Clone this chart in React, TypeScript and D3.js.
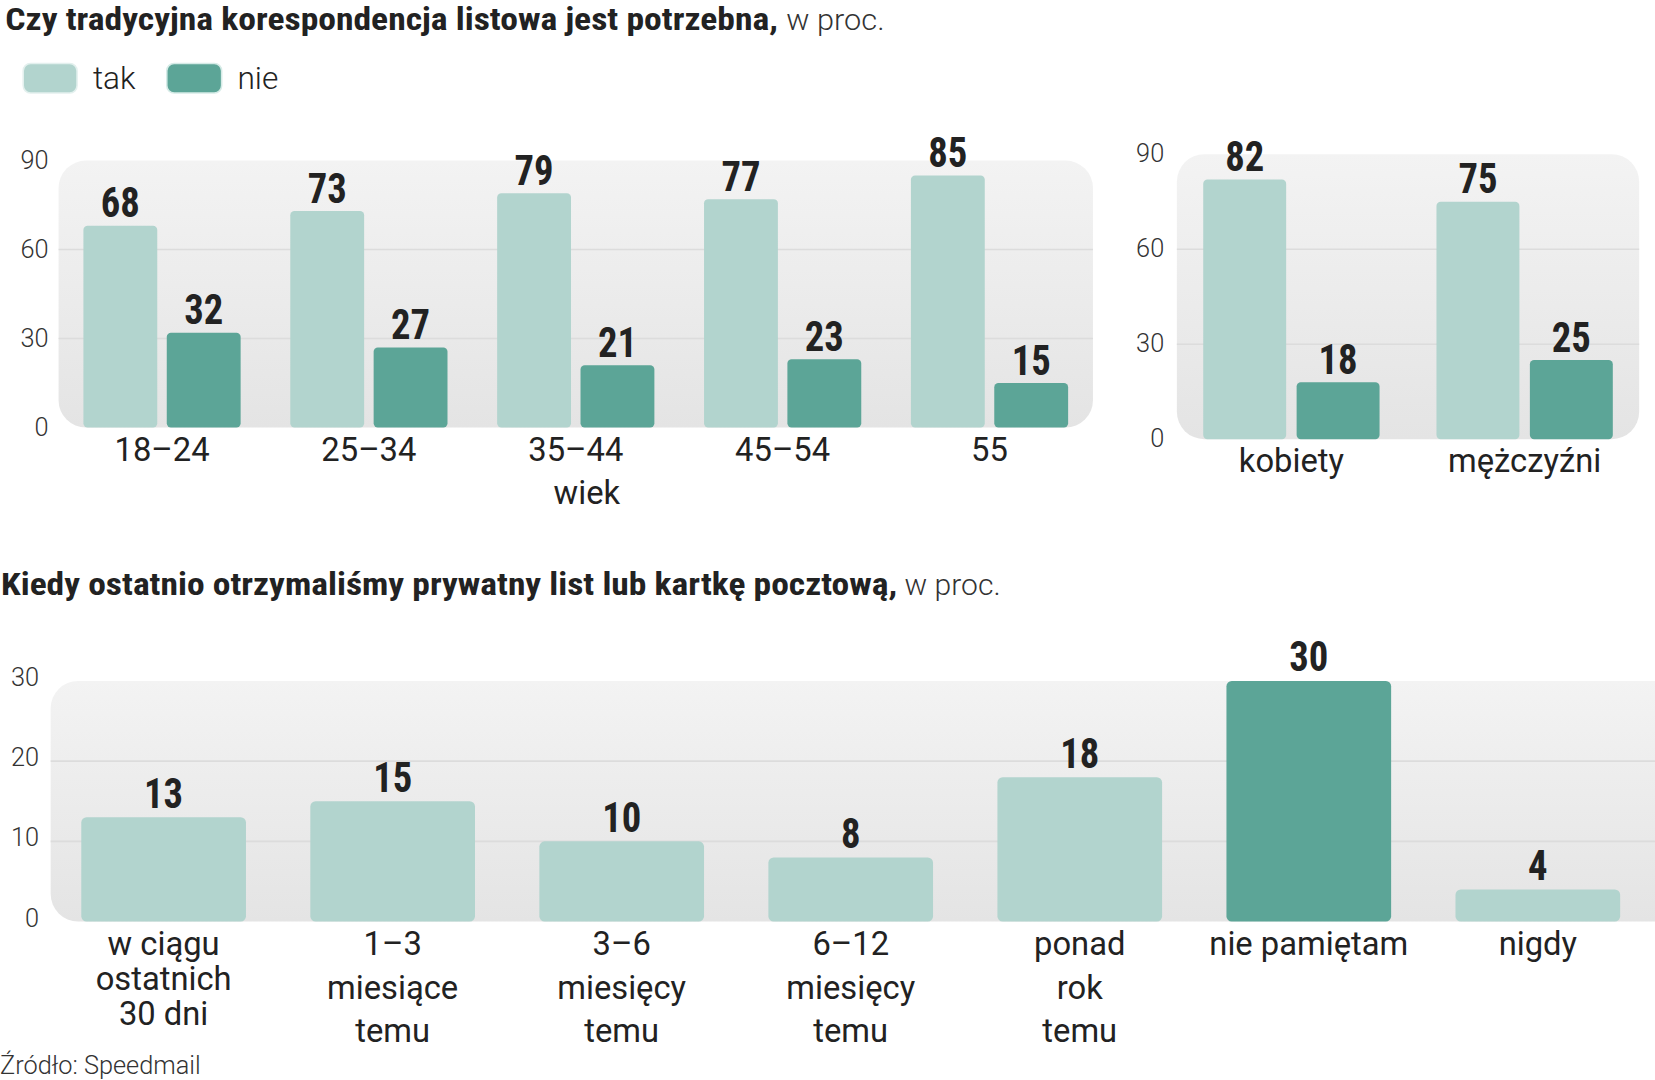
import React from "react";
import * as d3 from "d3";

// ---------- DATA ----------
const ageGroups = ["18–24", "25–34", "35–44", "45–54", "55"];
const ageTak = [68, 73, 79, 77, 85];
const ageNie = [32, 27, 21, 23, 15];

const genders = ["kobiety", "mężczyźni"];
const genderTak = [82, 75];
const genderNie = [18, 25];

const recencyLabels = [
  ["w ciągu", "ostatnich", "30 dni"],
  ["1–3", "miesiące", "temu"],
  ["3–6", "miesięcy", "temu"],
  ["6–12", "miesięcy", "temu"],
  ["ponad", "rok", "temu"],
  ["nie pamiętam"],
  ["nigdy"],
];
const recencyValues = [13, 15, 10, 8, 18, 30, 4];
const recencyHighlight = "nie pamiętam";

const topTicks = [0, 30, 60, 90];
const bottomTicks = [0, 10, 20, 30];
const seriesKeys = ["tak", "nie"];

const title1 = "Czy tradycyjna korespondencja listowa jest potrzebna,";
const title2 = "Kiedy ostatnio otrzymaliśmy prywatny list lub kartkę pocztową,";
const unit = "w proc.";
const source = "Źródło: Speedmail";

// ---------- STYLE ----------
const LIGHT = "#b2d4ce";
const DARK = "#5ca597";
const INK = "#222222";
const NARROW = "'Roboto Condensed', 'Liberation Sans Narrow', 'DejaVu Sans Condensed', Roboto, sans-serif";
const SANS = "Roboto, 'Open Sans', sans-serif";
const DIGIT_W = 18.5;

const W = 1568;
const H = 1023;

function Value({ x, y, v }: { x: number; y: number; v: number }) {
  const s = String(v);
  return (
    <text x={x} y={y} textAnchor="middle" fontFamily={NARROW} fontWeight={700} fontSize={40} fill={INK}
      textLength={DIGIT_W * s.length} lengthAdjust="spacingAndGlyphs">
      {s}
    </text>
  );
}

function Panel({ x0, x1, y0, y1 }: { x0: number; x1: number; y0: number; y1: number }) {
  return (
    <rect x={x0} y={y0} width={x1 - x0} height={y1 - y0} rx={26} ry={26} fill="url(#panelGrad)" />
  );
}

function GroupedChart({
  cats, tak, nie, xRange, yRange, tickX, catBaseline, barPad, innerPad,
}: {
  cats: string[]; tak: number[]; nie: number[]; xRange: [number, number]; yRange: [number, number];
  tickX: number; catBaseline: number; barPad: [number, number]; innerPad: number;
}) {
  const x0 = d3.scaleBand<string>().domain(cats).range(xRange).paddingInner(barPad[0]).paddingOuter(barPad[1]);
  const x1 = d3.scaleBand<string>().domain(seriesKeys).range([0, x0.bandwidth()]).paddingInner(innerPad);
  const y = d3.scaleLinear().domain([0, 90]).range(yRange);
  const rows = cats.map((c, i) => ({ c, vals: [tak[i], nie[i]] }));
  return (
    <g>
      <Panel x0={xRange[0]} x1={xRange[1]} y0={y(90)} y1={y(0)} />
      {topTicks.filter((t) => t > 0 && t < 90).map((t) => (
        <line key={t} x1={xRange[0]} x2={xRange[1]} y1={y(t)} y2={y(t)} stroke="#dcdcdc" strokeWidth={1.5} />
      ))}
      {topTicks.map((t) => (
        <text key={t} x={tickX} y={y(t)} dy="0.32em" textAnchor="end" fontFamily={SANS} fontWeight={300} fontSize={24} fill="#333">
          {t}
        </text>
      ))}
      {rows.map((r) => (
        <g key={r.c} transform={`translate(${x0(r.c)},0)`}>
          {r.vals.map((v, j) => (
            <g key={j}>
              <rect x={x1(seriesKeys[j])} y={y(v)} width={x1.bandwidth()} height={y(0) - y(v)} rx={4} fill={j === 0 ? LIGHT : DARK} />
              <Value x={(x1(seriesKeys[j]) as number) + x1.bandwidth() / 2} y={y(v) - 8} v={v} />
            </g>
          ))}
          <text x={x0.bandwidth() / 2} y={catBaseline} textAnchor="middle" fontFamily={SANS} fontSize={31} fill={INK}>
            {r.c}
          </text>
        </g>
      ))}
    </g>
  );
}

export default function App() {
  const xb = d3.scaleBand<number>().domain(recencyValues.map((_, i) => i)).range([46.5, 1565.5]).paddingInner(0.281).paddingOuter(0.1406);
  const yb = d3.scaleLinear().domain([0, 30]).range([873, 645]);

  return (
    <svg
      width={1655}
      height={1080}
      viewBox={`0 0 ${W} ${H}`}
      style={{ position: "absolute", left: 0, top: 0, background: "#fff" }}
    >
      <defs>
        <linearGradient id="panelGrad" x1="0" y1="0" x2="0" y2="1">
          <stop offset="0" stopColor="#f3f3f3" />
          <stop offset="1" stopColor="#e4e4e4" />
        </linearGradient>
      </defs>
      <rect x={0} y={0} width={W} height={H} fill="#fff" />

      {/* Title 1 */}
      <text x={5} y={28} fontFamily={NARROW} fontWeight={700} fontSize={29} fill={INK}
        textLength={732} lengthAdjust="spacingAndGlyphs">{title1}</text>
      <text x={745} y={28} fontFamily={SANS} fontWeight={300} fontSize={28} fill="#333"
        textLength={93} lengthAdjust="spacingAndGlyphs">{unit}</text>

      {/* Legend */}
      <rect x={22} y={60} width={51} height={28} rx={7} fill={LIGHT} stroke="#e3f0ee" strokeWidth={1.5} />
      <text x={88} y={84} fontFamily={SANS} fontWeight={300} fontSize={30} fill={INK}>tak</text>
      <rect x={158} y={60} width={52} height={28} rx={7} fill={DARK} stroke="#d6ebe7" strokeWidth={1.5} />
      <text x={225} y={84} fontFamily={SANS} fontWeight={300} fontSize={30} fill={INK}>nie</text>

      {/* Age chart */}
      <GroupedChart
        cats={ageGroups} tak={ageTak} nie={ageNie}
        xRange={[55.5, 1035.5]} yRange={[405, 152]} tickX={46}
        catBaseline={437} barPad={[0.24, 0.12]} innerPad={0.114}
      />
      <text x={556} y={477} textAnchor="middle" fontFamily={SANS} fontSize={31} fill={INK}>wiek</text>

      {/* Gender chart */}
      <GroupedChart
        cats={genders} tak={genderTak} nie={genderNie}
        xRange={[1115, 1553]} yRange={[416, 146]} tickX={1103}
        catBaseline={447} barPad={[0.244, 0.113]} innerPad={0.112}
      />

      {/* Title 2 */}
      <text x={1} y={564} fontFamily={NARROW} fontWeight={700} fontSize={29} fill={INK}
        textLength={849} lengthAdjust="spacingAndGlyphs">{title2}</text>
      <text x={857} y={564} fontFamily={SANS} fontWeight={300} fontSize={28} fill="#333"
        textLength={91} lengthAdjust="spacingAndGlyphs">{unit}</text>

      {/* Recency chart */}
      <g>
        <Panel x0={48} x1={W + 40} y0={yb(30)} y1={yb(0)} />
        {bottomTicks.filter((t) => t > 0 && t < 30).map((t) => (
          <line key={t} x1={48} x2={W} y1={yb(t)} y2={yb(t)} stroke="#dcdcdc" strokeWidth={1.5} />
        ))}
        {bottomTicks.map((t) => (
          <text key={t} x={37} y={yb(t)} dy="0.2em" textAnchor="end" fontFamily={SANS} fontWeight={300} fontSize={24} fill="#333">
            {t}
          </text>
        ))}
        {recencyValues.map((v, i) => {
          const lines = recencyLabels[i];
          const cx = (xb(i) as number) + xb.bandwidth() / 2;
          const lh = i === 0 ? 33 : 41;
          return (
            <g key={i}>
              <rect x={xb(i)} y={yb(v)} width={xb.bandwidth()} height={yb(0) - yb(v)} rx={5}
                fill={lines.join(" ") === recencyHighlight ? DARK : LIGHT} />
              <Value x={cx} y={yb(v) - 9} v={v} />
              {lines.map((l, k) => (
                <text key={k} x={cx} y={905 + k * lh} textAnchor="middle" fontFamily={SANS} fontSize={31} fill={INK}>
                  {l}
                </text>
              ))}
            </g>
          );
        })}
      </g>

      {/* Source */}
      <text x={0} y={1017} fontFamily={SANS} fontWeight={300} fontSize={24} fill="#333">{source}</text>
    </svg>
  );
}
